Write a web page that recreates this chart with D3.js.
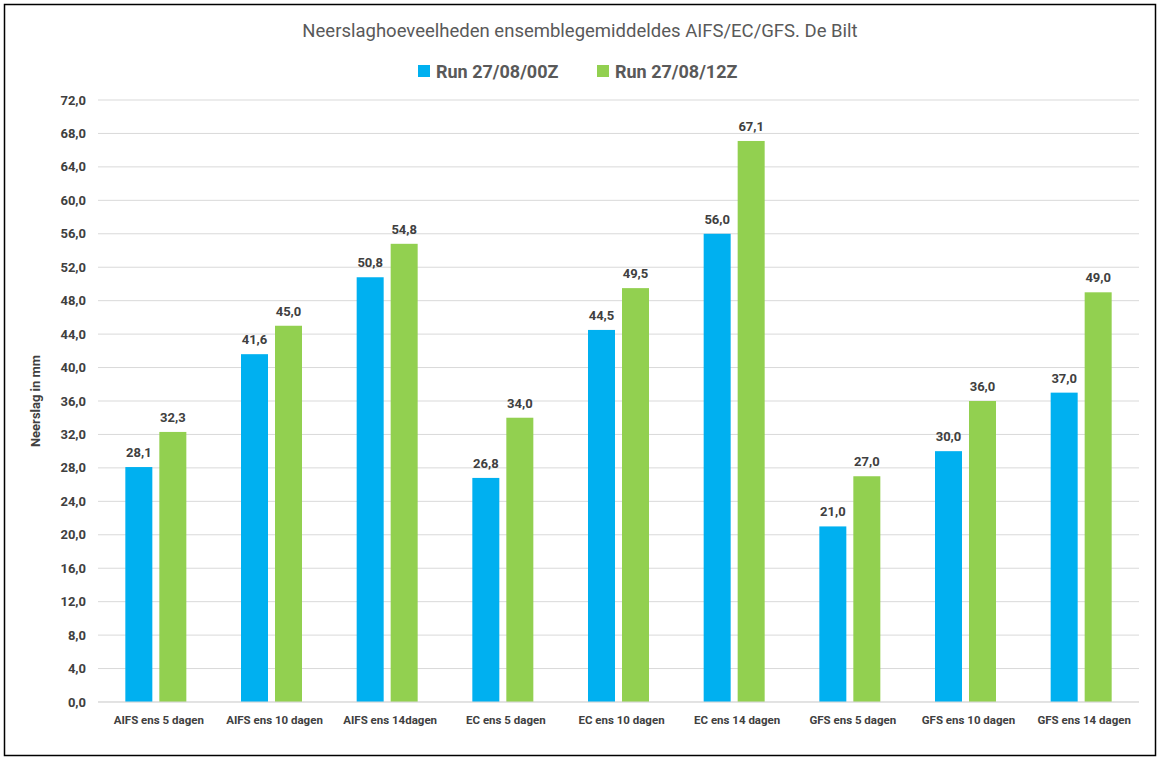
<!DOCTYPE html>
<html><head><meta charset="utf-8">
<script src="https://cdn.jsdelivr.net/npm/d3@7"></script>
<style>body{margin:0;background:#fff}svg{font-family:Roboto,"Liberation Sans",Arial,sans-serif}</style>
</head><body>
<svg id="c" width="1161" height="760"></svg>
<script>
const categories=["AIFS ens 5 dagen","AIFS ens 10 dagen","AIFS ens 14dagen","EC ens 5 dagen","EC ens 10 dagen","EC ens 14 dagen","GFS ens 5 dagen","GFS ens 10 dagen","GFS ens 14 dagen"];
const run00=[28.1,41.6,50.8,26.8,44.5,56.0,21.0,30.0,37.0];
const run12=[32.3,45.0,54.8,34.0,49.5,67.1,27.0,36.0,49.0];
const seriesNames=["Run 27/08/00Z","Run 27/08/12Z"];
const colors=["#00B0F0","#92D050"];
const yTicks=d3.range(0,72.1,4);

const svg=d3.select("#c");
svg.append("rect").attr("x",4.5).attr("y",4.5).attr("width",1151).attr("height",751).attr("fill","#fff").attr("stroke","#000").attr("stroke-width",1.5);
const x=d3.scaleBand().domain(categories).range([98,1139]);
const y=d3.scaleLinear().domain([0,72]).range([702,100]);
const fmt=v=>v.toFixed(1).replace(".",",");
svg.append("g").selectAll("line").data(yTicks).join("line")
 .attr("x1",98).attr("x2",1139).attr("y1",d=>y(d)).attr("y2",d=>y(d)).attr("stroke","#d9d9d9");
svg.append("g").selectAll("text").data(yTicks).join("text")
 .attr("x",86).attr("y",d=>y(d)+4.5).attr("text-anchor","end").attr("font-size",13).attr("font-weight","bold").attr("fill","#404040").text(fmt);
const bw=27,gap=7;
[run00,run12].forEach((s,i)=>{
 const g=svg.append("g");
 const bx=(c)=>x(c)+x.bandwidth()/2-gap/2-bw+i*(bw+gap);
 g.selectAll("rect").data(s).join("rect").attr("x",(d,j)=>bx(categories[j])).attr("width",bw)
  .attr("y",d=>y(d)).attr("height",d=>702-y(d)).attr("fill",colors[i]);
 g.selectAll("text").data(s).join("text").attr("x",(d,j)=>bx(categories[j])+bw/2).attr("y",d=>y(d)-10)
  .attr("text-anchor","middle").attr("font-size",13).attr("font-weight","bold").attr("fill","#404040").text(fmt);
});
svg.append("line").attr("x1",98).attr("x2",1139).attr("y1",702).attr("y2",702).attr("stroke","#d9d9d9");
svg.append("g").selectAll("text").data(categories).join("text")
 .attr("x",d=>x(d)+x.bandwidth()/2+3).attr("y",724).attr("text-anchor","middle").attr("font-size",11.5).attr("font-weight","bold").attr("fill","#404040").text(d=>d);
svg.append("text").attr("x",580).attr("y",37).attr("text-anchor","middle").attr("font-size",18.5).attr("fill","#595959").text("Neerslaghoeveelheden ensemblegemiddeldes AIFS/EC/GFS. De Bilt");
svg.append("text").attr("transform","translate(40,401) rotate(-90)").attr("text-anchor","middle").attr("font-size",13).attr("font-weight","bold").attr("fill","#404040").text("Neerslag in mm");
const lx=[418,597];
seriesNames.forEach((n,i)=>{
 svg.append("rect").attr("x",lx[i]).attr("y",65).attr("width",12).attr("height",12).attr("fill",colors[i]);
 svg.append("text").attr("x",lx[i]+18).attr("y",78).attr("font-size",18).attr("font-weight","bold").attr("fill","#595959").text(n);
});
</script></body></html>
